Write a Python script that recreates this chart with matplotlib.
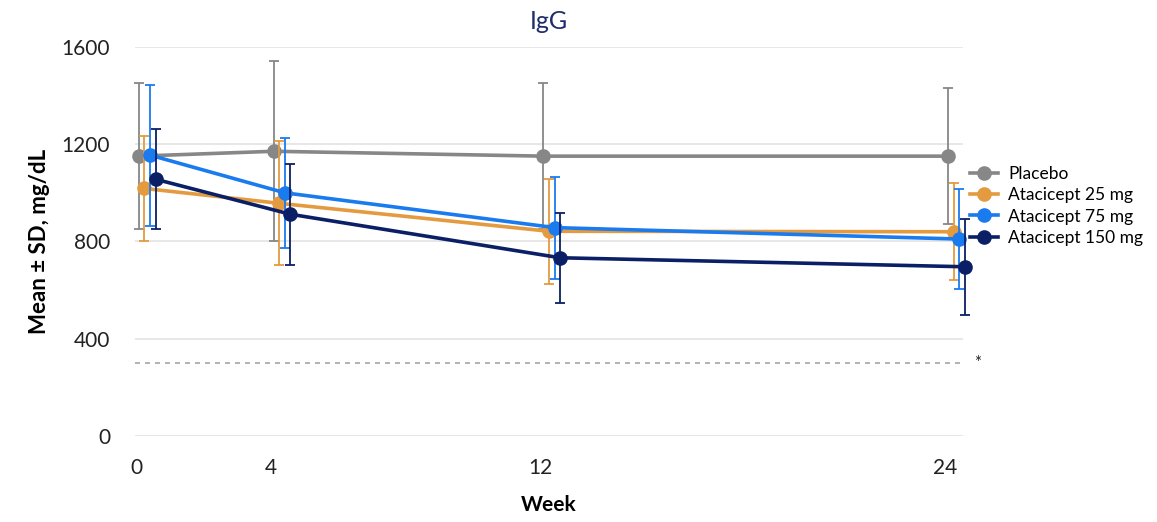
import matplotlib.pyplot as plt
import numpy as np

plt.rcParams['font.family'] = ['Lato', 'DejaVu Sans']

weeks = [0, 4, 12, 24]
series = ["Placebo", "Atacicept 25 mg", "Atacicept 75 mg", "Atacicept 150 mg"]
colors = ["#878787", "#E49B3F", "#1A7BEF", "#0B1F66"]
offsets = [0.08, 0.25, 0.42, 0.58]

placebo_mean = [1151, 1171, 1151, 1151]
placebo_sd = [300, 370, 300, 280]
dose25_mean = [1018, 957, 842, 840]
dose25_sd = [215, 255, 215, 200]
dose75_mean = [1155, 1000, 857, 810]
dose75_sd = [290, 225, 210, 205]
dose150_mean = [1056, 912, 733, 696]
dose150_sd = [205, 208, 185, 198]

means = [placebo_mean, dose25_mean, dose75_mean, dose150_mean]
sds = [placebo_sd, dose25_sd, dose75_sd, dose150_sd]
lloq = 300

fig = plt.figure(figsize=(11.57, 5.22), dpi=100)
ax = fig.add_axes([0.1167, 0.1648, 0.7156, 0.7452])

for i, name in enumerate(series):
    x = np.array(weeks) + offsets[i]
    eb = ax.errorbar(x, means[i], yerr=sds[i], fmt='none', ecolor=colors[i],
                     elinewidth=1.3, capsize=3.5, capthick=1.3, zorder=2 + i)
    for art in eb.lines[1] + eb.lines[2]:
        art.set_clip_on(False)
    ax.plot(x, means[i], '-o', color=colors[i], lw=2.6, ms=9.5,
            label=name, zorder=3 + i, clip_on=False)

ax.axhline(lloq, color='#A6A6A6', lw=1.2, ls=(0, (3, 3)), zorder=1)
ax.text(24.85, lloq, '*', ha='left', va='center', fontsize=12, color='#222222')

ax.set_xlim(-0.03, 24.53)
ax.set_ylim(0, 1600)
ax.set_yticks([0, 400, 800, 1200, 1600])
ax.set_xticks(weeks)
ax.grid(axis='y', color='#E3E3E3', lw=1.2, zorder=0)
for s in ax.spines.values():
    s.set_visible(False)
ax.tick_params(length=0, labelsize=15, colors='#222222')
ax.tick_params(axis='y', pad=18)
ax.tick_params(axis='x', pad=16)

ax.set_xlabel('Week', fontsize=15, fontweight='bold', labelpad=12)
ax.set_ylabel('Mean ± SD, mg/dL', fontsize=16, fontweight='bold', labelpad=8)
fig.text(0.474, 0.958, 'IgG', ha='center', va='center', fontsize=18,
         color='#1F2D6B')

fig.legend(loc='upper left', bbox_to_anchor=(0.828, 0.705), frameon=False,
           fontsize=12.5, handlelength=1.6, labelspacing=0.3, handletextpad=0.6,
           borderpad=0.2)

fig.savefig('out.png', dpi=100)
